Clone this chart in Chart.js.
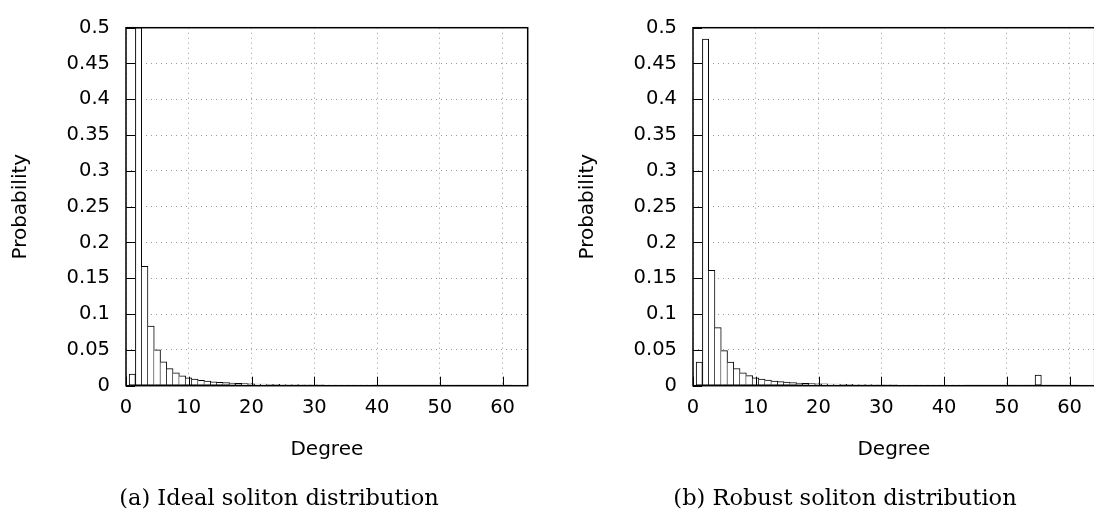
<!DOCTYPE html>
<html>
<head>
<meta charset="utf-8">
<script src="https://cdn.jsdelivr.net/npm/chart.js@4.4.1/dist/chart.umd.min.js"></script>
<style>
  body { margin: 0; width: 1094px; height: 510px; overflow: hidden; background: #fff; position: relative; }
  canvas { position: absolute; top: 0; }
  #chart-a { left: 0; }
  #chart-b { left: 567px; }
</style>
</head>
<body>
<canvas id="chart-a" width="547" height="510"></canvas>
<canvas id="chart-b" width="547" height="510"></canvas>
<script>
// degree values (x) shared by both panels
const degrees = [1, 2, 3, 4, 5, 6, 7, 8, 9, 10, 11, 12, 13, 14, 15, 16, 17, 18, 19, 20,
  21, 22, 23, 24, 25, 26, 27, 28, 29, 30, 31, 32, 33, 34, 35, 36, 37, 38, 39, 40,
  41, 42, 43, 44, 45, 46, 47, 48, 49, 50, 51, 52, 53, 54, 55, 56, 57, 58, 59, 60, 61];

// (a) ideal soliton
const idealProb = [0.0164, 0.5, 0.1667, 0.0833, 0.05, 0.0333, 0.0238, 0.0179, 0.0139, 0.0111,
  0.0091, 0.0076, 0.0064, 0.0055, 0.0048, 0.0042, 0.0037, 0.0033, 0.0029, 0.0026,
  0.0024, 0.0022, 0.0020, 0.0018, 0.0017, 0.0015, 0.0014, 0.0013, 0.0012, 0.0011,
  0.0011, 0.0010, 0.0009, 0.0009, 0.0008, 0.0008, 0.0008, 0.0007, 0.0007, 0.0006,
  0.0006, 0.0006, 0.0006, 0.0005, 0.0005, 0.0005, 0.0005, 0.0004, 0.0004, 0.0004,
  0.0004, 0.0004, 0.0004, 0.0003, 0.0003, 0.0003, 0.0003, 0.0003, 0.0003, 0.0003, 0.0003];

// (b) robust soliton
const robustProb = [0.033, 0.484, 0.161, 0.081, 0.049, 0.033, 0.024, 0.018, 0.014, 0.011,
  0.0092, 0.0077, 0.0065, 0.0056, 0.0049, 0.0043, 0.0038, 0.0034, 0.0030, 0.0027,
  0.0025, 0.0023, 0.0021, 0.0019, 0.0018, 0.0016, 0.0015, 0.0014, 0.0013, 0.0012,
  0.0012, 0.0011, 0.0010, 0.0010, 0.0009, 0.0009, 0.0009, 0.0008, 0.0008, 0.0007,
  0.0007, 0.0007, 0.0007, 0.0006, 0.0006, 0.0006, 0.0006, 0.0005, 0.0005, 0.0005,
  0.0005, 0.0005, 0.0005, 0.0004, 0.015, 0.0003, 0.0003, 0.0003, 0.0003, 0.0003, 0.0003];

const xTickValues = [0, 10, 20, 30, 40, 50, 60];
const yTickValues = [0, 0.05, 0.1, 0.15, 0.2, 0.25, 0.3, 0.35, 0.4, 0.45, 0.5];

Chart.defaults.font.family = 'DejaVu Sans';
Chart.defaults.color = '#000';

// frame, inward tick marks and sub caption
const frameAndCaption = {
    id: 'frameAndCaption',
    afterDraw(chart, args, opts) {
        const ctx = chart.ctx;
        const a = chart.chartArea;
        const xs = chart.scales.x, ys = chart.scales.y;
        ctx.save();
        ctx.strokeStyle = '#000';
        ctx.lineWidth = 1;
        ctx.beginPath();
        xs.ticks.forEach(t => {
            const px = Math.round(xs.getPixelForValue(t.value)) + 0.5;
            ctx.moveTo(px, a.bottom);
            ctx.lineTo(px, a.bottom - 9);
        });
        ys.ticks.forEach(t => {
            const py = Math.round(ys.getPixelForValue(t.value)) + 0.5;
            ctx.moveTo(a.left, py);
            ctx.lineTo(a.left + 9, py);
        });
        ctx.stroke();
        ctx.lineWidth = 1.5;
        ctx.strokeRect(a.left, a.top, a.right - a.left, a.bottom - a.top);
        ctx.fillStyle = '#000';
        ctx.font = '22.5px "DejaVu Serif"';
        ctx.textAlign = 'center';
        ctx.textBaseline = 'alphabetic';
        ctx.fillText(opts.caption, opts.captionX, 505);
        ctx.restore();
    }
};

function makeChart(id, values, caption, captionX) {
    const gridOpts = { color: '#999', lineWidth: 1, drawTicks: false, offset: false };
    const borderOpts = { display: false, dash: [1, 4] };
    return new Chart(document.getElementById(id), {
        type: 'bar',
        data: {
            datasets: [{
                data: degrees.map((d, i) => ({ x: d, y: values[i] })),
                backgroundColor: '#fff',
                borderColor: '#000',
                // keep shared edges single: left edge only where the bar rises
                borderWidth: c => ({
                    top: 1, bottom: 1, right: 1,
                    left: (c.dataIndex === 0 || values[c.dataIndex - 1] < values[c.dataIndex]) ? 1 : 0
                }),
                borderSkipped: false,
                barPercentage: 1,
                categoryPercentage: 1
            }]
        },
        options: {
            responsive: false,
            animation: false,
            layout: { padding: { top: 17.7, right: 19.3, bottom: 40, left: 0 } },
            plugins: {
                legend: { display: false },
                tooltip: { enabled: false },
                frameAndCaption: { caption: caption, captionX: captionX }
            },
            scales: {
                x: {
                    type: 'linear',
                    min: 0,
                    max: 64,
                    offset: false,
                    afterBuildTicks: s => { s.ticks = xTickValues.map(v => ({ value: v })); },
                    afterFit: s => { s.height = 84.3; },
                    grid: gridOpts,
                    border: borderOpts,
                    ticks: { padding: 11, maxRotation: 0, autoSkip: false, font: { size: 19.5 } },
                    title: { display: true, text: 'Degree', font: { size: 20 }, padding: { top: 0, bottom: 8.5 } }
                },
                y: {
                    min: 0,
                    max: 0.5,
                    afterBuildTicks: s => { s.ticks = yTickValues.map(v => ({ value: v })); },
                    afterFit: s => { s.width = 126; },
                    grid: gridOpts,
                    border: borderOpts,
                    ticks: { padding: 16, font: { size: 19.5 }, callback: v => String(+v.toFixed(2)) },
                    title: { display: true, text: 'Probability', font: { size: 20 }, padding: { top: 9, bottom: 0 } }
                }
            }
        },
        plugins: [frameAndCaption]
    });
}

makeChart('chart-a', idealProb, '(a) Ideal soliton distribution', 279);
makeChart('chart-b', robustProb, '(b) Robust soliton distribution', 278);
</script>
</body>
</html>
